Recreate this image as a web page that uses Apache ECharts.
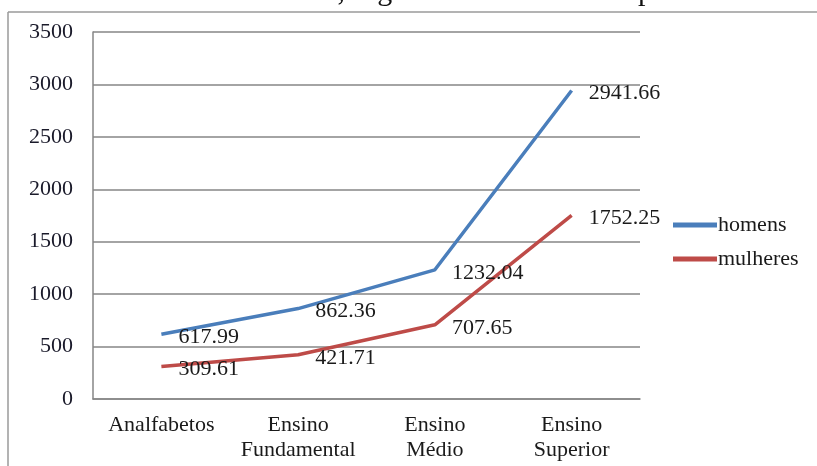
<!DOCTYPE html>
<html>
<head>
<meta charset="utf-8">
<script src="https://cdn.jsdelivr.net/npm/echarts@6/dist/echarts.min.js"></script>
<style>html,body{margin:0;padding:0;background:#fff;}#c{width:817px;height:466px;}</style>
</head>
<body>
<div id="c"></div>
<script>
const categories = ['Analfabetos', 'Ensino\nFundamental', 'Ensino\nMédio', 'Ensino\nSuperior'];
const homens = [617.99, 862.36, 1232.04, 2941.66];
const mulheres = [309.61, 421.71, 707.65, 1752.25];
const seriesNames = ['homens', 'mulheres'];
const headerText = 'rendimento mensal em reais, segundo a escolaridade para o ano de';

const serif = '"Liberation Serif", "DejaVu Serif", serif';
const chart = echarts.init(document.getElementById('c'));
function labelStyle() {
  return {
    show: true, position: 'right', distance: 17, offset: [0, 3],
    fontFamily: serif, fontSize: 22, color: '#1a1a1a',
    formatter: p => Number(p.value).toFixed(2)
  };
}
chart.setOption({
  animation: false,
  backgroundColor: '#fff',
  graphic: [
    { type: 'text', x: 0, y: 7, style: { text: headerText, fontFamily: serif, fontSize: 30, fill: '#111', verticalAlign: 'bottom' } },
    { type: 'line', shape: { x1: 8, y1: 12, x2: 817, y2: 12 }, style: { stroke: '#9a9a9a', lineWidth: 1.5 } },
    { type: 'line', shape: { x1: 8, y1: 12, x2: 8, y2: 466 }, style: { stroke: '#9a9a9a', lineWidth: 1.5 } }
  ],
  grid: { left: 93, right: 177, top: 32, bottom: 67 },
  legend: {
    orient: 'vertical', left: 668, top: 209, itemGap: 12,
    itemWidth: 44, itemHeight: 5, icon: 'rect',
    textStyle: { fontFamily: serif, fontSize: 22, color: '#1a1a1a', padding: [0, 0, 0, -4] },
    data: seriesNames
  },
  xAxis: {
    type: 'category', data: categories, boundaryGap: true,
    axisLine: { lineStyle: { color: '#868686', width: 1.5 } },
    axisTick: { show: false },
    axisLabel: { fontFamily: serif, fontSize: 22, color: '#1a1a1a', margin: 14, lineHeight: 25, interval: 0 }
  },
  yAxis: {
    type: 'value', min: 0, max: 3500, interval: 500,
    axisLine: { show: true, lineStyle: { color: '#868686', width: 1.5 } },
    axisTick: { show: false },
    splitLine: { lineStyle: { color: '#868686', width: 1.5 } },
    axisLabel: { fontFamily: serif, fontSize: 22, color: '#1a1a2a', margin: 20, formatter: v => String(v) }
  },
  series: [
    { name: seriesNames[0], type: 'line', data: homens, symbol: 'circle', symbolSize: 0.01, showAllSymbol: true, color: '#4a7ebb',
      lineStyle: { width: 3.5, color: '#4a7ebb' }, label: labelStyle() },
    { name: seriesNames[1], type: 'line', data: mulheres, symbol: 'circle', symbolSize: 0.01, showAllSymbol: true, color: '#be4b48',
      lineStyle: { width: 3.5, color: '#be4b48' }, label: labelStyle() }
  ]
});
</script>
</body>
</html>
